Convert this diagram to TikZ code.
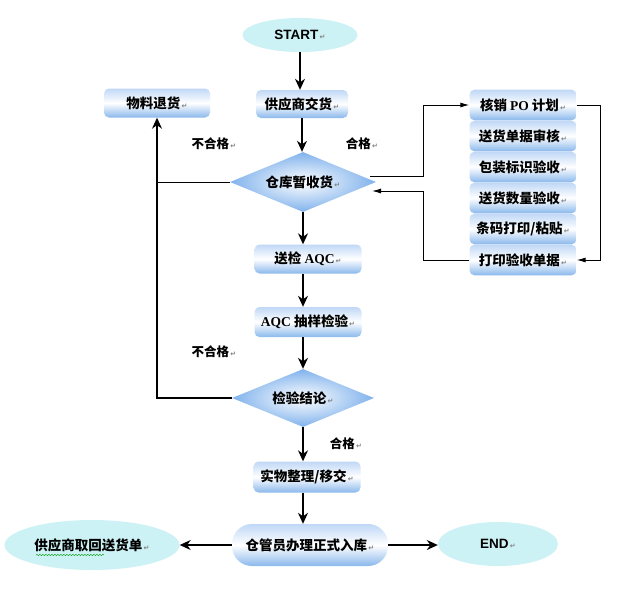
\documentclass[tikz,border=0pt]{standalone}
\usepackage{fontspec}
\newfontfamily\cjk{Noto Sans CJK SC}
\newfontfamily\tnr{Liberation Serif}
\newfontfamily\arl{Liberation Sans}
\newfontfamily\symfont{DejaVu Sans}
\usetikzlibrary{positioning,shapes.geometric,arrows.meta,calc,decorations.pathmorphing}

\definecolor{boxtop}{RGB}{192,216,246}
\definecolor{boxbot}{RGB}{138,184,236}
\definecolor{diaout}{RGB}{128,178,236}
\definecolor{ovalfill}{RGB}{204,242,245}
\newcommand\retmark{{\symfont\fontsize{7}{7}\selectfont\color{gray}\,↵}}

\begin{document}
\begin{tikzpicture}[x=1pt,y=-1pt,
  box/.style={rectangle,rounded corners=5pt,minimum width=107pt,minimum height=29pt,
    inner sep=0pt,top color=boxtop,bottom color=boxbot,middle color=white,
    font=\cjk\bfseries\fontsize{13.5}{15}\selectfont},
  dia/.style={diamond,aspect=2.4,inner sep=0pt,inner color=white,outer color=diaout,
    font=\cjk\bfseries\fontsize{13.5}{15}\selectfont},
  oval/.style={ellipse,fill=ovalfill,inner sep=0pt,
    font=\cjk\bfseries\fontsize{13.5}{15}\selectfont},
  lab/.style={font=\cjk\bfseries\fontsize{12.5}{14}\selectfont},
  arr/.style={line width=1.5pt,-{Stealth[length=11pt,width=10pt]}},
  lnk/.style={line width=1pt,-{Latex[length=9pt,width=5pt]}},
  plain/.style={line width=1pt}]
\fill[white] (0,0) rectangle (623,590);
\useasboundingbox (0,0) rectangle (623,590);

% main column
\node[oval,minimum width=115pt,minimum height=34pt] (start) at (300,35) {{\arl\bfseries START}\retmark};
\node[box,minimum width=92pt,minimum height=28pt] (sup) at (302,104) {供应商交货\retmark};
\node[box,minimum width=106pt] (ret) at (157,103) {物料退货\retmark};
\node[dia,minimum width=146pt,minimum height=60pt] (wh) at (303,182) {仓库暂收货\retmark};
\node[box] (aqc) at (308,259) {送检 {\tnr\bfseries AQC}\retmark};
\node[box,minimum height=30pt] (smp) at (308,322) {{\tnr\bfseries AQC} 抽样检验\retmark};
\node[dia,minimum width=142pt,minimum height=58pt] (chk) at (303,398) {检验结论\retmark};
\node[box,minimum height=31pt] (mov) at (307,477) {实物整理/移交\retmark};
\node[box,rounded corners=20pt,minimum width=156pt,minimum height=42pt] (stk) at (310,545) {仓管员办理正式入库\retmark};
\node[oval,minimum width=175pt,minimum height=50pt] (back) at (92,545) {供应商取回送货单\retmark};
\node[oval,minimum width=120pt,minimum height=44pt] (end) at (498,544) {{\arl\bfseries END}\retmark};

% right stack
\node[box,minimum height=30.6pt] (po) at (523,105) {核销 {\tnr\bfseries PO} 计划\retmark};
\node[box,minimum height=30.6pt,below=0pt of po] (doc) {送货单据审核\retmark};
\node[box,minimum height=30.6pt,below=0pt of doc] (pack) {包装标识验收\retmark};
\node[box,minimum height=30.6pt,below=0pt of pack] (qty) {送货数量验收\retmark};
\node[box,minimum height=30.6pt,below=0pt of qty] (bar) {条码打印/粘贴\retmark};
\node[box,minimum height=30.6pt,below=0pt of bar] (pr) {打印验收单据\retmark};

% labels
\node[lab] (ng1) at (214,144) {不合格\retmark};
\node[lab] (ok1) at (362,144) {合格\retmark};
\node[lab] (ng2) at (214,352) {不合格\retmark};
\node[lab] (ok2) at (346,444) {合格\retmark};

% arrows
\draw[arr] (start) -- (start |- sup.north);
\draw[arr] (sup.south) -- (sup.south |- wh.north);
\draw[arr] (wh.south) -- (wh.south |- aqc.north);
\draw[arr] (aqc.south -| wh.south) -- (wh.south |- smp.north);
\draw[arr] (smp.south -| wh.south) -- (chk.north);
\draw[arr] (chk.south) -- (chk.south |- mov.north);
\draw[arr] (mov.south -| chk.south) -- (chk.south |- stk.north);
\draw[arr] (stk.west) -- (stk.west -| back.east);
\draw[arr] (stk.east) -- (stk.east -| end.west);

\draw[plain] (wh.west) -- (wh.west -| ret.south);
\draw[arr] (chk.west) -| (ret.south);

\coordinate (bus) at (423,0);
\draw[lnk] ($(wh.east)+(-6,-6)$) -| (bus |- po.west) -- (po.west);
\draw[lnk] (pr.west) -| (bus |- 0,191) -- (372,191);
\draw[lnk] (po.east) -- ++(24,0) |- (pr.east);

\draw[green!60!black,decorate,decoration={snake,amplitude=0.7pt,segment length=3pt}] (36,555) -- (104,555);
\end{tikzpicture}
\end{document}
